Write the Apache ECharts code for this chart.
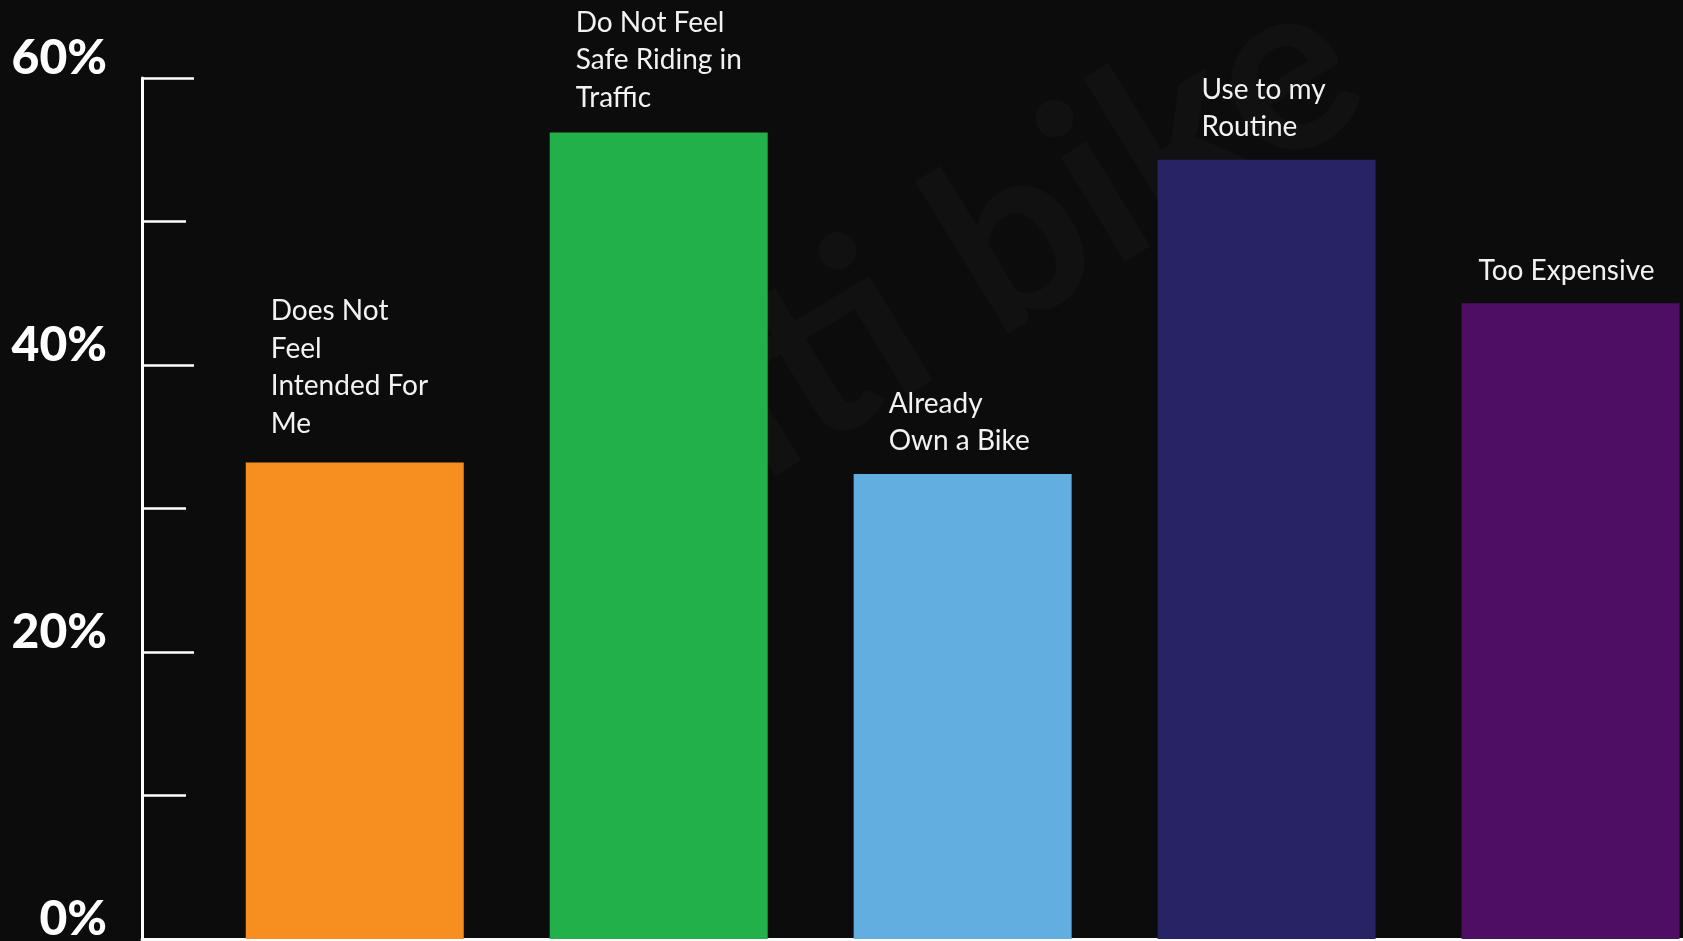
<!DOCTYPE html>
<html>
<head>
<meta charset="utf-8">
<title>Reasons for not riding</title>
<script src="https://cdn.jsdelivr.net/npm/echarts@6/dist/echarts.min.js"></script>
<style>
  html, body { margin: 0; padding: 0; background: #0c0c0c; }
  #chart { width: 1683px; height: 941px; }
</style>
</head>
<body>
<div id="chart"></div>
<script>
// Survey answers, one bar per reason
const categories = [
  'Does Not\nFeel\nIntended For\nMe',
  'Do Not Feel\nSafe Riding in\nTraffic',
  'Already\nOwn a Bike',
  'Use to my\nRoutine',
  'Too Expensive'
];
const values = [33.2, 56.2, 32.4, 54.3, 44.3];   // percent of respondents
const barColors = ['#f68e20', '#22b04b', '#62aee0', '#272364', '#4e0e63'];
// caption placement: [px from bar's left edge, extra vertical nudge]
const labelShift = [[25, -6], [26, -2], [35, 0], [44, 0], [17, 0]];
const yTicks = { min: 0, max: 60, step: 20 };

const BAR_W = 218;

const data = values.map((v, i) => ({
  value: [i, v],
  itemStyle: { color: barColors[i] },
  label: {
    formatter: categories[i],
    offset: [labelShift[i][0] - BAR_W / 2, labelShift[i][1]]
  }
}));

const chart = echarts.init(document.getElementById('chart'));
chart.setOption({
  backgroundColor: '#0c0c0c',
  animation: false,
  graphic: [{
    type: 'text',
    silent: true,
    z: -10,
    x: 980, y: 260,
    rotation: 0.55,
    style: {
      text: 'citi bike',
      fontSize: 240,
      fontWeight: 'bold',
      fontFamily: 'Lato',
      fill: 'rgba(255,255,255,0.025)',
      align: 'center',
      verticalAlign: 'middle'
    }
  }],
  grid: {
    left: 142, right: 0, top: 78, bottom: 2,
    containLabel: false,
    outerBoundsMode: 'none'
  },
  xAxis: {
    type: 'value',
    min: -0.7,
    max: 4.37,
    axisLine: { show: true, onZero: false, lineStyle: { color: '#ffffff', width: 3 } },
    axisTick: { show: false },
    axisLabel: { show: false },
    splitLine: { show: false }
  },
  yAxis: {
    type: 'value',
    min: yTicks.min,
    max: yTicks.max,
    interval: yTicks.step,
    axisLine: { show: true, onZero: false, lineStyle: { color: '#ffffff', width: 3 } },
    axisTick: { show: true, inside: true, length: 52, lineStyle: { color: '#ffffff', width: 2.5 } },
    minorTick: { show: true, splitNumber: 2, length: 44, lineStyle: { color: '#ffffff', width: 2.5 } },
    splitLine: { show: false },
    axisLabel: {
      formatter: '{value}%',
      color: '#ffffff',
      fontFamily: 'Lato',
      fontWeight: 900,
      fontSize: 48,
      margin: 35,
      verticalAlign: 'bottom',
      lineHeight: 38
    }
  },
  series: [{
    type: 'bar',
    barWidth: BAR_W,
    data: data,
    label: {
      show: true,
      position: 'top',
      distance: 14,
      align: 'left',
      color: '#f2f2f2',
      fontFamily: 'Lato',
      fontSize: 28,
      lineHeight: 37.5
    }
  }]
});
</script>
</body>
</html>
